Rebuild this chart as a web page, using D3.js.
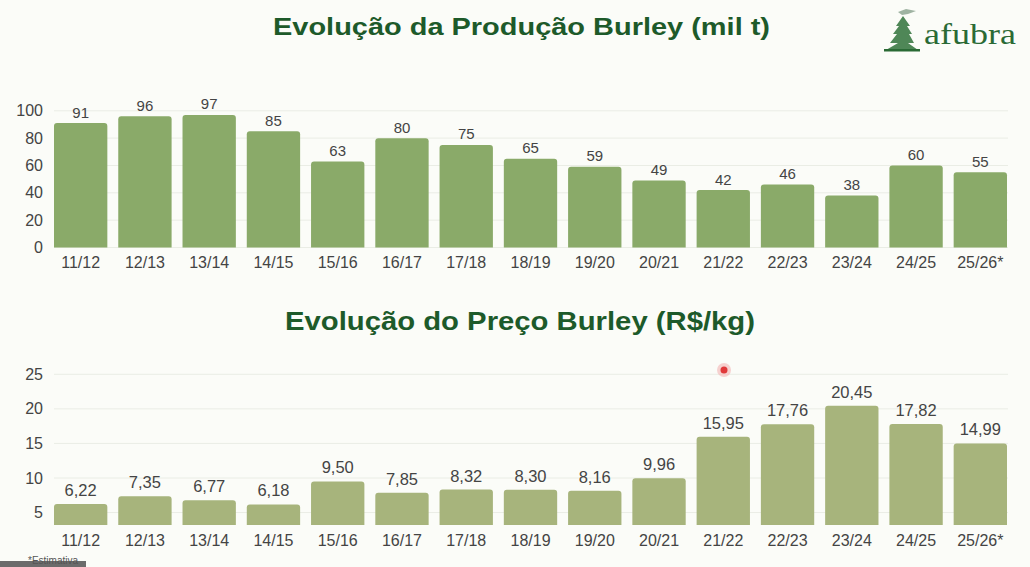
<!DOCTYPE html>
<html><head><meta charset="utf-8">
<script src="https://cdn.jsdelivr.net/npm/d3@7/dist/d3.min.js"></script>
<style>
html,body{margin:0;padding:0;background:#fbfcf8;}
svg{display:block;font-family:"Liberation Sans",Arial,sans-serif;}
</style></head>
<body><svg id="c" width="1030" height="567"></svg>
<script>
const categories = ["11/12","12/13","13/14","14/15","15/16","16/17","17/18","18/19","19/20","20/21","21/22","22/23","23/24","24/25","25/26*"];
const productionValues = [91,96,97,85,63,80,75,65,59,49,42,46,38,60,55];
const priceValues = [6.22,7.35,6.77,6.18,9.50,7.85,8.32,8.30,8.16,9.96,15.95,17.76,20.45,17.82,14.99];
const productionTicks = [0,20,40,60,80,100];
const priceTicks = [5,10,15,20,25];
const titleProduction = "Evolução da Produção Burley (mil t)";
const titlePrice = "Evolução do Preço Burley (R$/kg)";
const footnote = "*Estimativa";

const svg = d3.select("#c");
svg.append("rect").attr("width",1030).attr("height",567).attr("fill","#fbfcf8");

const x = d3.scaleBand().domain(categories).range([54,1007]).paddingInner(0.17).paddingOuter(0);
const fmtBR = d => d.toFixed(2).replace(".", ",");
const textCol = "#444444";
const gridCol = "#eaede5";

function panel(cfg){
  const g = svg.append("g");
  const y = cfg.y;
  g.selectAll(".grid").data(cfg.ticks).join("line")
    .attr("x1",54).attr("x2",1008)
    .attr("y1",d=>y(d)).attr("y2",d=>y(d))
    .attr("stroke",gridCol).attr("stroke-width",1);
  const ya = d3.axisLeft(y).tickValues(cfg.ticks).tickSize(0).tickPadding(0);
  const yg = g.append("g").attr("transform","translate(43,0)").call(ya);
  yg.select(".domain").remove();
  yg.selectAll("text").attr("font-size",cfg.yFont).attr("fill",textCol).attr("font-family","Liberation Sans, Arial, sans-serif");
  g.selectAll(".bar").data(cfg.values).join("path")
    .attr("fill",cfg.color)
    .attr("d",(d,i)=>{
      const x0 = x(categories[i]), w = x.bandwidth();
      const yt = y(d), yb = cfg.base, r = 3;
      return `M${x0},${yb}V${yt+r}Q${x0},${yt} ${x0+r},${yt}H${x0+w-r}Q${x0+w},${yt} ${x0+w},${yt+r}V${yb}Z`;
    });
  g.selectAll(".val").data(cfg.values).join("text")
    .attr("x",(d,i)=>x(categories[i])+x.bandwidth()/2)
    .attr("y",d=>y(d)-cfg.labelGap)
    .attr("text-anchor","middle").attr("font-size",cfg.valFont).attr("fill",textCol)
    .text(cfg.fmt);
  const xa = d3.axisBottom(x).tickSize(0).tickPadding(0);
  const xg = g.append("g").attr("transform",`translate(0,${cfg.xLabelY})`).call(xa);
  xg.select(".domain").remove();
  xg.selectAll("text").attr("font-size",16).attr("fill",textCol).attr("dy","0").attr("y",0)
    .attr("font-family","Liberation Sans, Arial, sans-serif");
}

panel({
  y: d3.scaleLinear().domain([0,100]).range([247.5,110.8]),
  base: 247.5, ticks: productionTicks, values: productionValues,
  color: "#8aaa69", labelGap: 5.5, valFont: 15, yFont: 16, xLabelY: 267.5,
  fmt: d => d
});
panel({
  y: d3.scaleLinear().domain([3.2,25]).range([525,374.3]),
  base: 525, ticks: priceTicks, values: priceValues,
  color: "#a7b47c", labelGap: 8, valFont: 16.5, yFont: 16, xLabelY: 545.5,
  fmt: fmtBR
});

svg.append("text").attr("x",273).attr("y",34.5).attr("font-size",23.5).attr("font-weight","bold")
  .attr("fill","#1d5a2a").attr("textLength",497).attr("lengthAdjust","spacingAndGlyphs").text(titleProduction);
svg.append("text").attr("x",285).attr("y",329.5).attr("font-size",25).attr("font-weight","bold")
  .attr("fill","#1d5a2a").attr("textLength",470).attr("lengthAdjust","spacingAndGlyphs").text(titlePrice);

svg.append("rect").attr("x",0).attr("y",561).attr("width",86).attr("height",6).attr("fill","#6b6b6b");
svg.append("text").attr("x",28).attr("y",564).attr("font-size",10).attr("fill","#555").text(footnote);

const lg = svg.append("g");
lg.append("path").attr("d","M898,12 L906,9 L916,11 L908,14 L902,15 Z").attr("fill","#9fb3a2");
lg.append("path").attr("d","M903,16 L896,26 L899,26 L893,34 L897,34 L890,43 L898,43 L886,50 L918,50 L908,43 L914,43 L909,34 L912,34 L907,26 L910,26 Z").attr("fill","#4f8757");
lg.append("rect").attr("x",884).attr("y",49).attr("width",36).attr("height",2.5).attr("fill","#2a6a35");
svg.append("text").attr("x",924).attr("y",44).attr("font-size",30).attr("font-family","Liberation Serif, serif")
  .attr("fill","#2a6a35").attr("textLength",92).attr("lengthAdjust","spacingAndGlyphs").text("afubra");

svg.append("circle").attr("cx",724).attr("cy",370).attr("r",7).attr("fill","#f4b4b4").attr("opacity",0.6);
svg.append("circle").attr("cx",724).attr("cy",370).attr("r",3.5).attr("fill","#e0393a");
</script></body></html>
